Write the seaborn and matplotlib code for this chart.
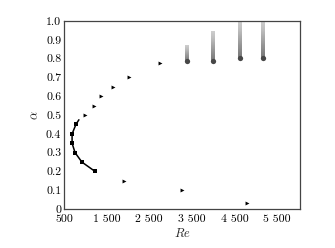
import numpy as np
import pandas as pd
import matplotlib
matplotlib.use("Agg")
import matplotlib.pyplot as plt
import seaborn as sns

sns.set_style("white")
plt.rcParams['font.family'] = ['cmr10', 'DejaVu Serif']
plt.rcParams['mathtext.fontset'] = 'cm'
plt.rcParams['axes.unicode_minus'] = False

# neutral curve (squares) and its continuation
curve_re = [1230, 920, 760, 690, 690, 780, 850]
curve_alpha = [0.20, 0.25, 0.30, 0.35, 0.40, 0.45, 0.475]
n_square = 6

# isolated triangle points
tri_re = [995, 1200, 1360, 1640, 2030, 2750, 1910, 3260, 4800]
tri_alpha = [0.50, 0.55, 0.60, 0.65, 0.70, 0.775, 0.15, 0.10, 0.03]

# gray scatter bands
band_re = [3390, 4000, 4630, 5170]
band_low = [0.78, 0.78, 0.80, 0.80]
band_high = [0.87, 0.94, 1.00, 1.00]

xticks = [500, 1000, 1500, 2000, 2500, 3000, 3500, 4000, 4500, 5000, 5500]
xticklabels = ['500', '', '1 500', '', '2 500', '', '3 500', '', '4 500', '', '5 500']
yticks = [0, 0.1, 0.2, 0.3, 0.4, 0.5, 0.6, 0.7, 0.8, 0.9, 1.0]
yticklabels = ['0', '0.1', '0.2', '0.3', '0.4', '0.5', '0.6', '0.7', '0.8', '0.9', '1.0']

fig = plt.figure(figsize=(3.35, 2.48), dpi=100)
ax = fig.add_axes([0.191, 0.157, 0.705, 0.758])

# bands with vertical gradient (dark at bottom, lighter at top)
half_w = 42
grad = np.linspace(0.62, 0.30, 50).reshape(-1, 1)
for r, lo, hi in zip(band_re, band_low, band_high):
    ax.imshow(grad, extent=[r - half_w, r + half_w, lo, hi], origin='lower',
              cmap='Greys', vmin=0, vmax=1, aspect='auto',
              interpolation='bilinear', zorder=2)
    ax.plot([r], [lo + 0.006], marker='o', ms=3.8, color=(0.28, 0.28, 0.28),
            mew=0, zorder=3)

df_curve = pd.DataFrame({'Re': curve_re, 'alpha': curve_alpha})
ax.plot(df_curve['Re'], df_curve['alpha'], color='black', lw=1.1, zorder=4)
sns.scatterplot(data=df_curve.iloc[:n_square], x='Re', y='alpha', marker='s',
                s=8, color='black', edgecolor='black', linewidth=0, ax=ax, zorder=5)

df_tri = pd.DataFrame({'Re': tri_re, 'alpha': tri_alpha})
sns.scatterplot(data=df_tri, x='Re', y='alpha', marker='>', s=8,
                color='black', edgecolor='black', linewidth=0, ax=ax, zorder=5)

ax.set_xlim(500, 6040)
ax.set_ylim(0, 1.0)
ax.set_xticks(xticks)
ax.set_xticklabels(xticklabels)
ax.set_yticks(yticks)
ax.set_yticklabels(yticklabels)
ax.tick_params(direction='in', length=3, width=0.8, colors='#333333',
               labelcolor='black', labelsize=8.5)
ax.tick_params(axis='x', pad=4)
ax.tick_params(axis='y', pad=2)
for s in ax.spines.values():
    s.set_color('#444444')
    s.set_linewidth(0.9)

ax.set_xlabel(r'$Re$', fontsize=9, labelpad=2)
ax.set_ylabel(r'$\alpha$', fontsize=9, labelpad=3)

fig.savefig('out.png', dpi=100)
